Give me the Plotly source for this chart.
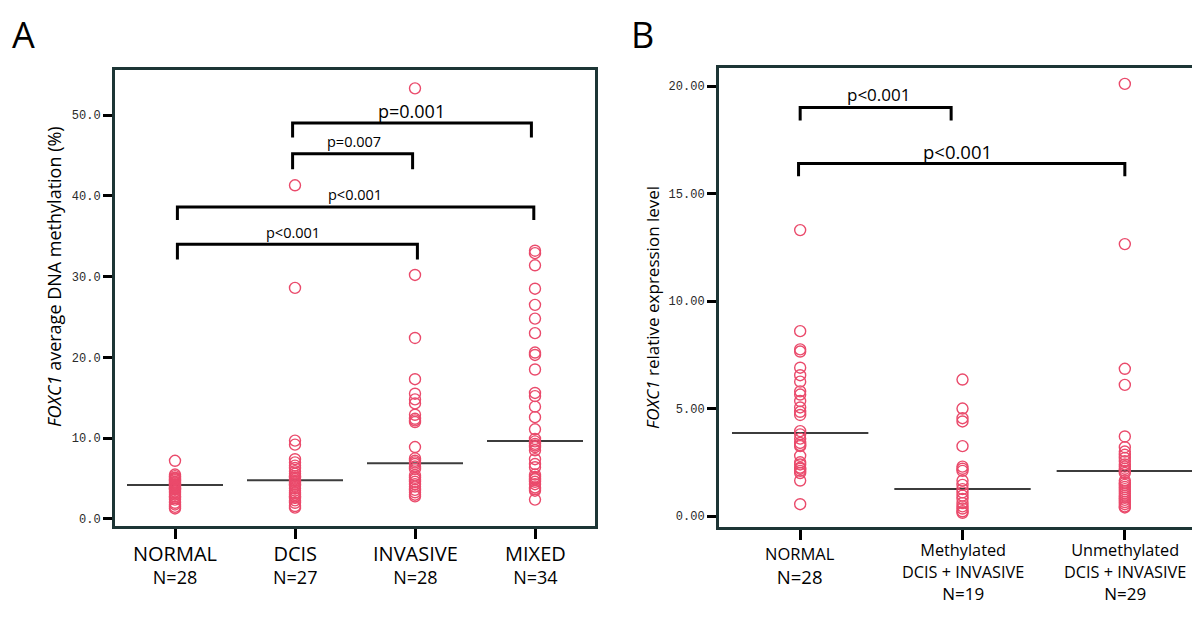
import plotly.graph_objects as go

# ---------------- Data ----------------
# Panel A: FOXC1 average DNA methylation (%)
a_categories = ["NORMAL", "DCIS", "INVASIVE", "MIXED"]
a_counts = ["N=28", "N=27", "N=28", "N=34"]
a_normal = [7.2, 5.5, 5.3, 5.1, 5.0, 4.9, 4.8, 4.6, 4.5, 4.4, 4.3, 4.2, 4.1, 4.0,
            3.9, 3.8, 3.7, 3.6, 3.4, 3.2, 3.0, 2.8, 2.6, 2.4, 2.0, 1.8, 1.5, 1.3]
a_dcis = [41.3, 28.6, 9.7, 9.2, 7.4, 7.0, 6.6, 6.3, 5.9, 5.6, 5.3, 5.1, 4.9, 4.7,
          4.5, 4.3, 4.1, 3.8, 3.5, 3.2, 3.0, 2.8, 2.6, 2.3, 2.0, 1.6, 1.4]
a_invasive = [53.3, 30.2, 22.4, 17.3, 15.5, 14.8, 14.3, 12.9, 12.4, 12.2, 12.0, 8.9,
              7.5, 7.2, 7.0, 6.8, 6.5, 6.2, 5.4, 5.1, 4.9, 4.6, 4.3, 4.0, 3.6, 3.3, 3.0, 2.8]
a_mixed = [33.2, 32.9, 31.4, 28.5, 26.5, 24.8, 23.0, 20.6, 20.3, 18.5, 15.6, 15.2,
           13.9, 12.6, 11.1, 9.9, 9.6, 9.3, 9.1, 8.9, 8.5, 7.4, 6.8, 6.4, 5.5, 5.2,
           5.0, 4.9, 4.6, 4.3, 3.9, 3.7, 3.5, 2.4]
a_medians = [4.2, 4.8, 6.9, 9.65]
a_ticks = [0, 10, 20, 30, 40, 50]

# brackets: (x_start, x_end, y_bar, y_leg, label, label_x, label_y, label_size)
a_brackets = [
    (0.02, 2.02, 34.0, 32.1, "p<0.001", 0.98, 35.4, 14.5),
    (0.02, 2.99, 38.6, 37.0, "p<0.001", 1.5, 40.2, 14.5),
    (0.98, 1.98, 45.2, 43.3, "p=0.007", 1.49, 46.7, 14.5),
    (0.98, 2.97, 49.0, 47.2, "p=0.001", 1.97, 50.5, 18),
]

# Panel B: FOXC1 relative expression level
b_categories = [["NORMAL"], ["Methylated", "DCIS + INVASIVE"], ["Unmethylated", "DCIS + INVASIVE"]]
b_counts = ["N=28", "N=19", "N=29"]
b_normal = [13.3, 8.6, 7.75, 7.65, 6.9, 6.55, 6.25, 5.8, 5.65, 5.35, 5.05, 4.85, 4.7,
            3.95, 3.8, 3.6, 3.4, 3.3, 3.25, 2.8, 2.5, 2.4, 2.25, 2.2, 2.1, 2.0, 1.65, 0.55]
b_methylated = [6.35, 5.0, 4.55, 4.4, 3.25, 2.3, 2.2, 2.1, 1.65, 1.45, 1.25, 1.1, 0.95,
                0.8, 0.6, 0.45, 0.35, 0.22, 0.15]
b_unmethylated = [20.1, 12.65, 6.85, 6.1, 3.7, 3.2, 3.0, 2.85, 2.7, 2.55, 2.4, 2.3, 2.2,
                  2.1, 2.0, 1.65, 1.55, 1.45, 1.35, 1.25, 1.15, 1.05, 0.95, 0.85, 0.75,
                  0.65, 0.55, 0.45, 0.4]
b_medians = [3.86, 1.26, 2.09]
b_ticks = [0, 5, 10, 15, 20]
b_brackets = [
    (0.0, 0.93, 19.0, 18.4, "p<0.001", 0.48, 19.6, 17),
    (-0.01, 2.0, 16.4, 15.8, "p<0.001", 0.97, 16.95, 18.5),
]

# ---------------- Style ----------------
W, H = 1200, 628
POINT_COLOR = "#ea4a6b"
FRAME_COLOR = "#1d3535"
LABEL_FONT = "Open Sans"

fig = go.Figure()

def add_points(groups, xa, ya):
    for i, vals in enumerate(groups):
        fig.add_trace(go.Scatter(
            x=[i] * len(vals), y=vals, mode="markers", xaxis=xa, yaxis=ya,
            marker=dict(symbol="circle-open", size=11, color=POINT_COLOR,
                        line=dict(width=1.4, color=POINT_COLOR)),
            showlegend=False, hoverinfo="y"))

def add_medians(meds, xa, ya, half):
    for i, m in enumerate(meds):
        fig.add_trace(go.Scatter(
            x=[i - half, i + half], y=[m, m], mode="lines", xaxis=xa, yaxis=ya,
            line=dict(color="#3c3c3c", width=2), showlegend=False, hoverinfo="skip"))

def add_brackets(brs, xa, ya, xref, yref):
    for x1, x2, yb, yl, lab, lx, ly, fs in brs:
        fig.add_trace(go.Scatter(
            x=[x1, x1, x2, x2], y=[yl, yb, yb, yl], mode="lines", xaxis=xa, yaxis=ya,
            line=dict(color="black", width=3), showlegend=False, hoverinfo="skip"))
        fig.add_annotation(x=lx, y=ly, xref=xref, yref=yref, text=lab, showarrow=False,
                           font=dict(family=LABEL_FONT, size=fs, color="black"),
                           xanchor="center", yanchor="middle")

add_medians(a_medians, "x", "y", 0.4)
add_points([a_normal, a_dcis, a_invasive, a_mixed], "x", "y")
add_brackets(a_brackets, "x", "y", "x", "y")

add_medians(b_medians, "x2", "y2", 0.42)
add_points([b_normal, b_methylated, b_unmethylated], "x2", "y2")
add_brackets(b_brackets, "x2", "y2", "x2", "y2")

def py(px):
    return 1 - px / H

common_x = dict(showgrid=False, zeroline=False, showline=True, mirror=True,
                linecolor=FRAME_COLOR, linewidth=3, ticks="outside", ticklen=10,
                tickwidth=3, tickcolor="black", showticklabels=False, fixedrange=True)
common_y = dict(showgrid=False, zeroline=False, showline=True, mirror=True,
                linecolor=FRAME_COLOR, linewidth=3, ticks="outside", ticklen=9,
                tickwidth=3, tickcolor="black", fixedrange=True,
                tickfont=dict(family="Liberation Mono", size=12, color="#2a2a2a"))

fig.update_layout(
    width=W, height=H, margin=dict(l=0, r=0, t=0, b=0),
    paper_bgcolor="white", plot_bgcolor="white", showlegend=False,
    xaxis=dict(domain=[107 / W, 587 / W], range=[-0.5, 3.5],
               tickvals=list(range(len(a_categories))), anchor="y", **common_x),
    yaxis=dict(domain=[py(518), py(62)], range=[-0.87, 55.57], tickvals=a_ticks,
               tickformat=".1f", anchor="x", **common_y),
    xaxis2=dict(domain=[711 / W, 1198 / W], range=[-0.5, 2.5],
                tickvals=list(range(len(b_categories))), anchor="y2", **common_x),
    yaxis2=dict(domain=[py(519), py(60)], range=[-0.51, 20.84], tickvals=b_ticks,
                tickformat=".2f", anchor="x2", **common_y),
)

# Category labels panel A (one multi-line text per category)
for i, (cat, n) in enumerate(zip(a_categories, a_counts)):
    fig.add_annotation(x=i, y=py(556.5), xref="x", yref="paper",
                       text=f"<span style='font-size:20px'>{cat}</span><br>{n}",
                       showarrow=False,
                       font=dict(family=LABEL_FONT, size=18, color="black"),
                       xanchor="center", yanchor="middle")

# Category labels panel B
for i, (lines, n) in enumerate(zip(b_categories, b_counts)):
    if len(lines) == 1:
        fig.add_annotation(x=i, y=py(557), xref="x2", yref="paper",
                           text=f"<span style='font-size:16.5px'>{lines[0]}</span><br>{n}",
                           showarrow=False,
                           font=dict(family=LABEL_FONT, size=18.5, color="black"),
                           xanchor="center", yanchor="middle")
    else:
        fig.add_annotation(x=i, y=py(564), xref="x2", yref="paper",
                           text=f"<span style='font-size:16.3px'>{lines[0]}</span><br>"
                                f"<span style='font-size:16.3px'>{lines[1]}</span><br>{n}",
                           showarrow=False,
                           font=dict(family=LABEL_FONT, size=17, color="black"),
                           xanchor="center", yanchor="middle")

# Axis titles
fig.add_annotation(x=46 / W, y=py(269), xref="paper", yref="paper",
                   text="<i>FOXC1</i> average DNA methylation (%)", textangle=-90,
                   showarrow=False, font=dict(family=LABEL_FONT, size=18, color="black"),
                   xanchor="center", yanchor="middle")
fig.add_annotation(x=644 / W, y=py(300), xref="paper", yref="paper",
                   text="<i>FOXC1</i> relative expression level", textangle=-90,
                   showarrow=False, font=dict(family=LABEL_FONT, size=17, color="black"),
                   xanchor="center", yanchor="middle")

# Panel letters
fig.add_annotation(x=2 / W, y=1, xref="paper", yref="paper", text="A", showarrow=False,
                   font=dict(family=LABEL_FONT, size=36, color="black"),
                   xanchor="left", yanchor="top")
fig.add_annotation(x=634 / W, y=1, xref="paper", yref="paper", text="B", showarrow=False,
                   font=dict(family=LABEL_FONT, size=36, color="black"),
                   xanchor="center", yanchor="top")

fig.write_html("out.html")
